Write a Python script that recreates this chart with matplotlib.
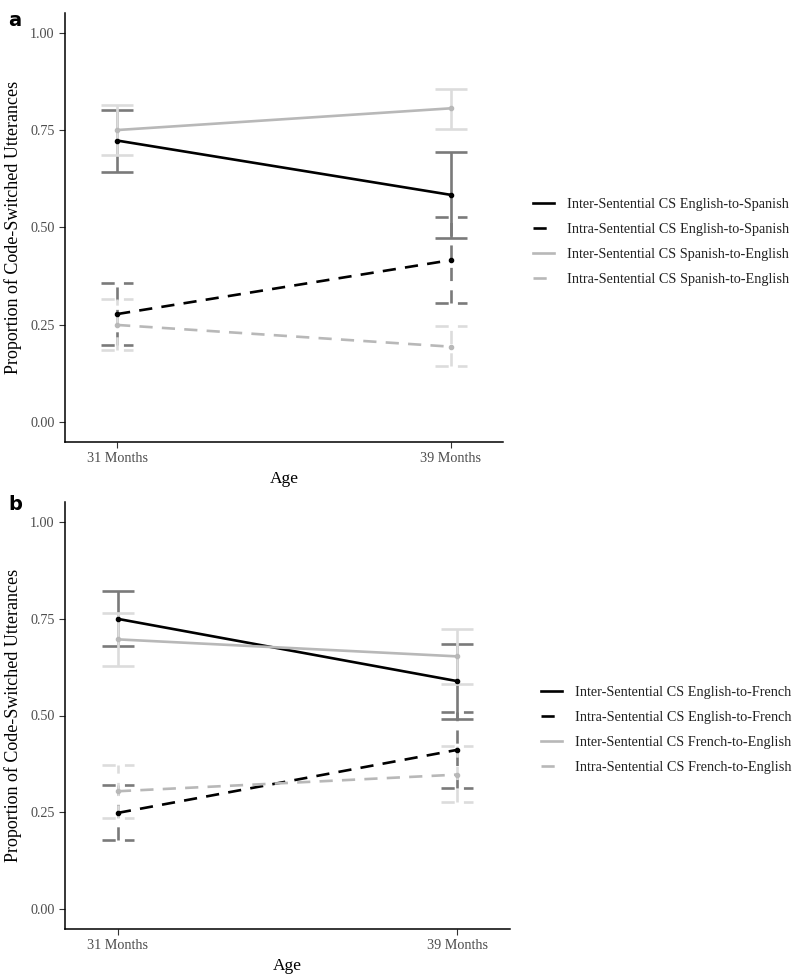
import numpy as np
import matplotlib.pyplot as plt
from matplotlib.lines import Line2D

plt.rcParams['font.family'] = ['Liberation Serif', 'DejaVu Serif']

ages = ["31 Months", "39 Months"]

# panel a : English / Spanish
labels_a = ["Inter-Sentential CS English-to-Spanish",
            "Intra-Sentential CS English-to-Spanish",
            "Inter-Sentential CS Spanish-to-English",
            "Intra-Sentential CS Spanish-to-English"]
mean_a = [[0.724, 0.584], [0.277, 0.416], [0.751, 0.807], [0.249, 0.193]]
low_a = [[0.644, 0.474], [0.197, 0.306], [0.687, 0.754], [0.185, 0.142]]
high_a = [[0.803, 0.694], [0.356, 0.526], [0.815, 0.858], [0.315, 0.246]]

# panel b : English / French
labels_b = ["Inter-Sentential CS English-to-French",
            "Intra-Sentential CS English-to-French",
            "Inter-Sentential CS French-to-English",
            "Intra-Sentential CS French-to-English"]
mean_b = [[0.750, 0.589], [0.248, 0.411], [0.697, 0.653], [0.304, 0.347]]
low_b = [[0.680, 0.490], [0.178, 0.313], [0.628, 0.581], [0.234, 0.276]]
high_b = [[0.823, 0.686], [0.321, 0.510], [0.765, 0.724], [0.373, 0.420]]

line_col = ['#000000', '#000000', '#b8b8b8', '#b8b8b8']
err_col = ['#7a7a7a', '#7a7a7a', '#dcdcdc', '#dcdcdc']
styles = ['-', (0, (5, 3.5)), '-', (0, (5, 3.5))]

fig = plt.figure(figsize=(8, 9.77), dpi=100)
ax_a = fig.add_axes([65/800, 1-442/977, (503-65)/800, (442-13)/977])
ax_b = fig.add_axes([65/800, 1-929/977, (510-65)/800, (929-502)/977])

def panel(ax, labels, mean, low, high, leg_x, leg_y):
	x = np.arange(1, len(ages)+1)
	cw = 0.048
	# error bars first so lines sit on top
	for i in range(len(labels)):
		ax.vlines(x, low[i], high[i], color=err_col[i], lw=1.9, linestyle=styles[i], zorder=2)
		ax.hlines(low[i], x-cw, x+cw, color=err_col[i], lw=1.9, linestyle=styles[i], zorder=2)
		ax.hlines(high[i], x-cw, x+cw, color=err_col[i], lw=1.9, linestyle=styles[i], zorder=2)
	handles = []
	for i in range(len(labels)):
		ax.plot(x, mean[i], color=line_col[i], lw=1.9, linestyle=styles[i], zorder=3)
		ax.scatter(x, mean[i], color=line_col[i], s=9, zorder=4)
		handles.append(Line2D([], [], color=line_col[i], lw=1.9, linestyle=styles[i]))
	ax.set_xlim(1-0.156, len(ages)+0.156)
	ax.set_ylim(-0.0525, 1.0525)
	ax.set_xticks(x)
	ax.set_xticklabels(ages)
	ax.set_yticks([0, 0.25, 0.5, 0.75, 1.0])
	ax.set_yticklabels(['0.00', '0.25', '0.50', '0.75', '1.00'])
	ax.tick_params(colors='#333333', labelcolor='#4d4d4d', labelsize=10.2, length=4, width=0.8)
	for s in ['top', 'right']:
		ax.spines[s].set_visible(False)
	for s in ['left', 'bottom']:
		ax.spines[s].set_linewidth(1.1)
	ax.set_xlabel("Age", fontsize=12.5, labelpad=4)
	ax.set_ylabel("Proportion of Code-Switched Utterances", fontsize=13, labelpad=6)
	fig.legend(handles, labels, loc='center left', bbox_to_anchor=(leg_x, leg_y),
	           frameon=False, fontsize=10.3, handlelength=1.45, handletextpad=0.9,
	           labelspacing=0.82, labelcolor='#222222', borderpad=0, borderaxespad=0)

panel(ax_a, labels_a, mean_a, low_a, high_a, 533/800, 1-242/977)
panel(ax_b, labels_b, mean_b, low_b, high_b, 541/800, 1-730/977)

fig.text(8/800, 1-20/977, "a", fontsize=14, fontweight='bold', family='DejaVu Sans', va='center')
fig.text(8/800, 1-505/977, "b", fontsize=14, fontweight='bold', family='DejaVu Sans', va='center')

fig.savefig("out.png", dpi=100)
